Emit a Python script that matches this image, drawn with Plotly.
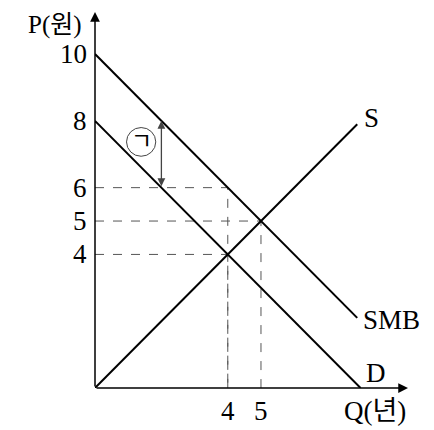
import plotly.graph_objects as go

# Curves (quantity, price)
s_q = [0, 7.9]
s_p = [0, 7.9]
smb_q = [0, 7.9]
smb_p = [10, 2.1]
d_q = [0, 8]
d_p = [8, 0]

# Reference levels
x_ticks = [4, 5]
y_ticks = [4, 5, 6, 8, 10]
dash_levels = [(4, 6), (5, 5), (4, 4)]  # (Q, P)
gap_q = 2
gap_low, gap_high = 6, 8

SERIF = "Liberation Serif, Noto Sans CJK KR, serif"
FS = 27

fig = go.Figure()

# dashed guides
for q, p in dash_levels:
    fig.add_trace(go.Scatter(x=[0, q, q], y=[p, p, 0], mode="lines",
                             line=dict(color="#555", width=1, dash="dash"),
                             hoverinfo="skip", showlegend=False))

for qs, ps in [(s_q, s_p), (smb_q, smb_p), (d_q, d_p)]:
    fig.add_trace(go.Scatter(x=qs, y=ps, mode="lines",
                             line=dict(color="black", width=2),
                             hoverinfo="skip", showlegend=False))

ann = []
# axes with arrows
ann.append(dict(x=9.43, y=0, ax=0, ay=0, xref="x", yref="y", axref="x", ayref="y",
                showarrow=True, arrowhead=2, arrowsize=1.3, arrowwidth=1.5,
                arrowcolor="black", text=""))
ann.append(dict(x=0, y=11.26, ax=0, ay=0, xref="x", yref="y", axref="x", ayref="y",
                showarrow=True, arrowhead=2, arrowsize=1.3, arrowwidth=1.5,
                arrowcolor="black", text=""))
# double-headed gap arrow
ann.append(dict(x=gap_q, y=gap_high, ax=gap_q, ay=gap_low, xref="x", yref="y",
                axref="x", ayref="y", showarrow=True, arrowhead=2, startarrowhead=2,
                arrowside="end+start", arrowsize=1.2, startarrowsize=1.2,
                arrowwidth=1.3, arrowcolor="#444", text=""))

# tick labels
for v in y_ticks:
    ann.append(dict(x=0, y=v, xref="x", yref="y", text=str(v), showarrow=False,
                    xanchor="right", yanchor="middle", xshift=-6,
                    font=dict(family=SERIF, size=FS, color="black")))
for v in x_ticks:
    ann.append(dict(x=v, y=0, xref="x", yref="y", text=str(v), showarrow=False,
                    yanchor="middle", yshift=-23,
                    font=dict(family=SERIF, size=FS, color="black")))

# curve and axis labels
labels = [
    (s_q[-1], s_p[-1], "S", "left", "middle", 5, 6),
    (smb_q[-1], smb_p[-1], "SMB", "left", "middle", 4, -2),
    (d_q[-1], d_p[-1], "D", "left", "middle", 3, 15),
]
for x, y, t, xa, ya, xs, ys in labels:
    ann.append(dict(x=x, y=y, xref="x", yref="y", text=t, showarrow=False,
                    xanchor=xa, yanchor=ya, xshift=xs, yshift=ys,
                    font=dict(family=SERIF, size=FS, color="black")))

ann.append(dict(x=0, y=10.88, xref="x", yref="y", text="P(원)", showarrow=False,
                xanchor="right", yanchor="middle", xshift=-11,
                font=dict(family=SERIF, size=25, color="black")))
ann.append(dict(x=9.43, y=0, xref="x", yref="y", text="Q(년)", showarrow=False,
                xanchor="right", yanchor="middle", yshift=-23,
                font=dict(family=SERIF, size=FS, color="black")))

# circled label
ann.append(dict(x=1.39, y=7.37, xref="x", yref="y", text="ㄱ", showarrow=False,
                font=dict(family=SERIF, size=23, color="black")))

fig.add_shape(type="circle", xref="x", yref="y", x0=0.95, x1=1.83, y0=6.94, y1=7.80,
              line=dict(color="#444", width=1))

# page body has an 8px margin, so the plot area is shifted back by that amount
fig.update_layout(
    width=434, height=430,
    margin=dict(l=87, r=28, t=2, b=50),
    paper_bgcolor="white", plot_bgcolor="white",
    annotations=ann,
    xaxis=dict(range=[0, 9.61], visible=False, fixedrange=True),
    yaxis=dict(range=[0, 11.32], visible=False, fixedrange=True),
)

fig.write_html("out.html")
